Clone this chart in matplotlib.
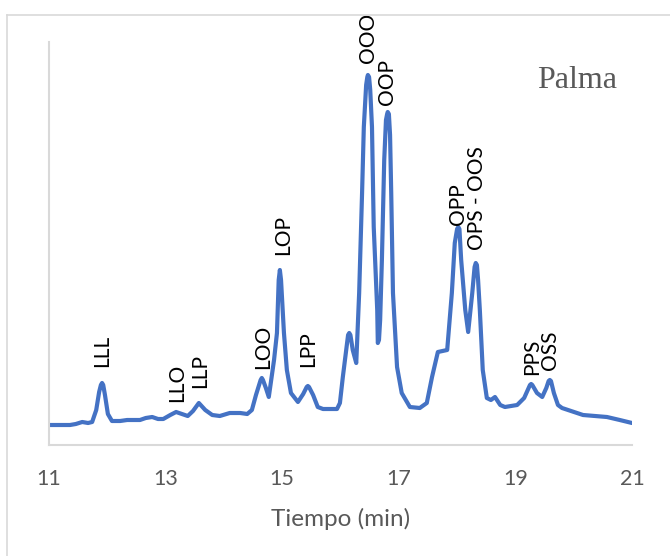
import matplotlib
matplotlib.use("Agg")
import matplotlib.pyplot as plt
from matplotlib.lines import Line2D

# Chromatogram trace (time in min, detector response in arbitrary units)
tiempo = [11.00, 11.19, 11.36, 11.46, 11.57, 11.67, 11.74, 11.81, 11.86, 11.89, 11.91,
          11.93, 11.96, 12.01, 12.08, 12.22, 12.34, 12.56, 12.66, 12.77, 12.87, 12.96,
          13.08, 13.18, 13.28, 13.38, 13.47, 13.57, 13.68, 13.80, 13.93, 14.10,
          14.28, 14.40, 14.48, 14.55, 14.63, 14.65, 14.67, 14.72, 14.77, 14.86, 14.91,
          14.94, 14.96, 14.98, 15.03, 15.08, 15.15, 15.27, 15.36, 15.42, 15.44, 15.46,
          15.53, 15.61, 15.70, 15.94, 15.99, 16.04, 16.13, 16.15, 16.17, 16.21, 16.27,
          16.32, 16.37, 16.40, 16.44, 16.46, 16.47, 16.49, 16.51, 16.54, 16.57, 16.63,
          16.64, 16.66, 16.68, 16.71, 16.75, 16.78, 16.80, 16.81, 16.83,
          16.85, 16.87, 16.90, 16.97, 17.05, 17.19, 17.36, 17.48, 17.57, 17.67,
          17.83, 17.91, 17.96, 18.00, 18.02, 18.04, 18.07, 18.14, 18.19, 18.22, 18.26,
          18.30, 18.32, 18.34, 18.36, 18.39, 18.44, 18.51, 18.58, 18.65, 18.74, 18.82,
          19.03, 19.15, 19.25, 19.27, 19.29, 19.37, 19.46, 19.53, 19.57, 19.59, 19.61,
          19.66, 19.73, 19.80, 20.16, 20.57, 20.79, 21.00]
respuesta = [20, 20, 20, 21, 23, 22, 23, 35, 53, 60, 62,
             60, 50, 31, 24, 24, 25, 25, 27, 28, 26, 26,
             30, 33, 31, 29, 34, 42, 35, 30, 29, 32,
             32, 31, 35, 50, 65, 67, 65, 57, 48, 85, 112,
             165, 175, 165, 112, 75, 52, 43, 51, 58, 59, 58,
             50, 38, 36, 36, 42, 68, 110, 112, 110, 95, 82,
             152, 252, 318, 360, 368, 370, 368, 355, 318, 218, 135,
             102, 105, 125, 185, 285, 325, 331, 333, 331,
             310, 252, 152, 78, 52, 38, 37, 42, 68, 93,
             95, 152, 202, 216, 218, 216, 185, 135, 113, 130, 152,
             178, 182, 180, 165, 135, 75, 47, 45, 48, 40, 38,
             40, 47, 60, 61, 60, 52, 48, 57, 64, 65, 64,
             52, 40, 37, 30, 28, 25, 22]

# Peak labels (triglycerides) and the positions of their label anchors
etiquetas = ["LLL", "LLO", "LLP", "LOO", "LOP", "LPP", "OOO", "OOP",
             "OPP", "OPS - OOS", "PPS", "OSS"]
etiqueta_x = [11.91, 13.20, 13.59, 14.67, 15.01, 15.44, 16.47, 16.80,
              18.02, 18.34, 19.28, 19.59]
etiqueta_y = [78, 43, 57, 76, 190, 78, 382, 340, 220, 195, 70, 75]

xticks = [11, 13, 15, 17, 19, 21]

fig = plt.figure(figsize=(6.70, 5.56), dpi=100)
ax = fig.add_axes([49/670, 1 - 445/556, (632 - 49)/670, (445 - 42)/556])

ax.plot(tiempo, respuesta, color="#4472C4", linewidth=3.0,
        solid_joinstyle="round", solid_capstyle="round")

for lab, lx, ly in zip(etiquetas, etiqueta_x, etiqueta_y):
    ax.text(lx, ly, lab, rotation=90, ha="center", va="bottom",
            fontsize=15, family="Lato", color="black", clip_on=False)

ax.set_xlim(11, 21)
ax.set_ylim(0, 403)
ax.set_xticks(xticks)
ax.set_xticklabels([str(t) for t in xticks])
ax.set_yticks([])
ax.tick_params(axis="x", length=0, pad=17, labelsize=15.5, labelcolor="#595959")
for lbl in ax.get_xticklabels():
    lbl.set_family("Lato")
ax.set_xlabel("Tiempo (min)", fontsize=17.5, color="#595959", family="Lato",
              labelpad=14)

for s in ["top", "right"]:
    ax.spines[s].set_visible(False)
for s in ["left", "bottom"]:
    ax.spines[s].set_color("#D9D9D9")
    ax.spines[s].set_linewidth(1.5)

ax.text(0.905, 0.905, "Palma", transform=ax.transAxes, ha="center", va="center",
        fontsize=23, family="Liberation Serif", color="#595959")

# outer chart frame (extends beyond the image on right/bottom)
fx, fy = 7/670, 1 - 15/556
fig.add_artist(Line2D([fx, 1.0], [fy, fy], transform=fig.transFigure,
                      color="#D9D9D9", linewidth=1.2))
fig.add_artist(Line2D([fx, fx], [0.0, fy], transform=fig.transFigure,
                      color="#D9D9D9", linewidth=1.2))

fig.savefig("out.png", dpi=100)
